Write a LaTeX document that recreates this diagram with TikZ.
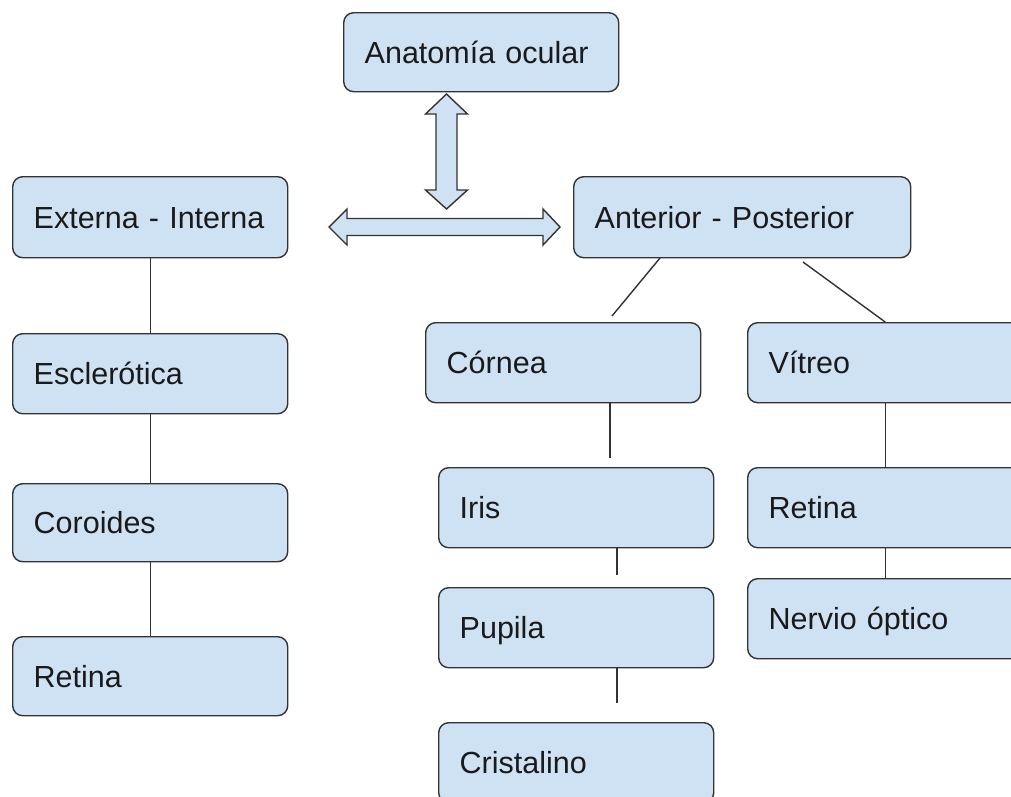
\documentclass[tikz,border=0pt]{standalone}
\usepackage{fontspec}
\setmainfont{Liberation Sans}
\definecolor{boxfill}{HTML}{CFE2F3}
\definecolor{boxline}{HTML}{333333}
\definecolor{txt}{HTML}{1A1A1A}
\begin{document}
\begin{tikzpicture}[x=1pt,y=-1pt,
  box/.style={draw=boxline, fill=boxfill, line width=1.4pt, rounded corners=10pt,
    anchor=north west, minimum height=80pt, text width=233pt, align=left,
    inner xsep=21pt, inner ysep=0pt, text height=22pt, text depth=0pt,
    text=txt, font=\fontsize{30.5pt}{34pt}\selectfont},
  link/.style={draw=boxline, line width=1.4pt},
  dbl/.style={draw=boxline, fill=boxfill, line width=1.4pt, line join=miter}]
\useasboundingbox (0,0) rectangle (1011,796);
\clip (0,0) rectangle (1011,796);
\fill[white] (0,0) rectangle (1011,796);
% nodes
\node[box, minimum height=79pt] (top) at (343,12) {Anatomía ocular};
\node[box, minimum height=81pt] (ext) at (12,176) {Externa - Interna};
\node[box, minimum height=81pt, text width=295pt] (ant) at (573,176) {Anterior - Posterior};
\node[box] (scl) at (12,333) {Esclerótica};
\node[box, minimum height=78pt] (cor) at (12,483) {Coroides};
\node[box, minimum height=79pt] (retL) at (12,636) {Retina};
\node[box] (crn) at (425,322) {Córnea};
\node[box] (vit) at (747,322) {Vítreo};
\node[box] (iri) at (438,467) {Iris};
\node[box] (retR) at (747,467) {Retina};
\node[box] (pup) at (438,587) {Pupila};
\node[box] (ner) at (747,578) {Nervio óptico};
\node[box] (cri) at (438,722) {Cristalino};
% free ends of connectors
\coordinate (a1) at (660,258);
\coordinate (a2) at (612,316);
\coordinate (a3) at (803,262);
\coordinate (c1) at (610,458);
\coordinate (c2) at (617,575);
\coordinate (c3) at (617,703);
% connectors
\draw[link] (ext.south) -- (scl.north);
\draw[link] (scl.south) -- (cor.north);
\draw[link] (cor.south) -- (retL.north);
\draw[link] (a1) -- (a2);
\draw[link] (a3) -- (vit.north);
\draw[link] (crn.south -| c1) -- (c1);
\draw[link] (iri.south -| c2) -- (c2);
\draw[link] (pup.south -| c3) -- (c3);
\draw[link] (vit.south) -- (retR.north);
\draw[link] (retR.south) -- (ner.north);
% double arrows
\draw[dbl] (446.5,94) -- (467.5,114) -- (457,114) -- (457,190) -- (467.5,190) -- (446.5,209)
  -- (425.5,190) -- (436,190) -- (436,114) -- (425.5,114) -- cycle;
\draw[dbl] (329,227) -- (347,209) -- (347,218.5) -- (543,218.5) -- (543,209) -- (560,227)
  -- (543,245) -- (543,235.5) -- (347,235.5) -- (347,245) -- cycle;
\end{tikzpicture}
\end{document}
